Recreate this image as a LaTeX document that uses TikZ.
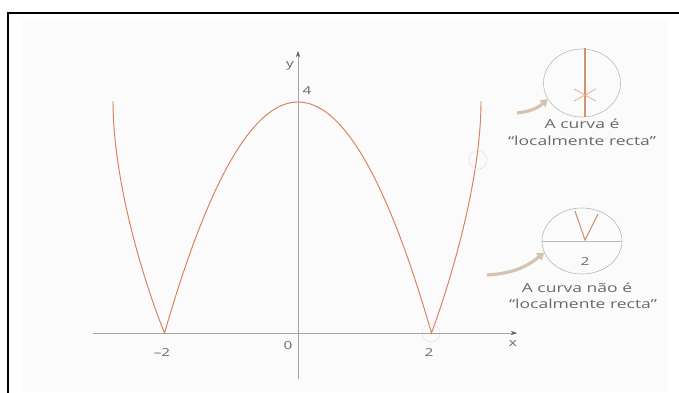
\documentclass[tikz,border=0pt]{standalone}
\usepackage{fontspec}
\usetikzlibrary{arrows.meta,shapes.geometric}
\newfontfamily\labfont[FakeStretch=1.4]{Open Sans}
\definecolor{curvecol}{RGB}{214,128,92}
\definecolor{axiscol}{RGB}{165,165,165}
\definecolor{tipcol}{RGB}{90,90,90}
\definecolor{txtcol}{RGB}{105,105,105}
\definecolor{arrowcol}{RGB}{214,196,178}
\definecolor{ringcol}{RGB}{185,185,185}
\definecolor{panelcol}{RGB}{251,251,251}
\definecolor{zoomcol}{RGB}{205,150,115}
\definecolor{xcol}{RGB}{238,175,135}
\begin{document}
\begin{tikzpicture}[x=1pt,y=-1pt,
  axisline/.style={draw=axiscol,line width=0.6pt},
  curveline/.style={draw=curvecol,line width=0.95pt,line join=miter},
  lab/.style={text=txtcol,font=\labfont\fontsize{12.5}{14}\selectfont,inner sep=0pt},
  axlab/.style={text=txtcol,font=\labfont\fontsize{11}{13}\selectfont,inner sep=0pt},
  ring/.style={ellipse,draw=ringcol,line width=0.6pt,inner sep=0pt},
  dotring/.style={circle,draw=curvecol!45,densely dotted,line width=0.7pt,minimum size=18pt,inner sep=0pt},
  bigarrow/.style={draw=arrowcol,line width=3.2pt,-{Triangle[length=7pt,width=9pt]}},
  zoomline/.style={draw=zoomcol,line width=1.1pt},
  xmark/.style={draw=xcol,line width=0.8pt}]
\useasboundingbox (0,0) rectangle (679,392);
\fill[panelcol] (22,20) rectangle (668,392);
\draw[line width=2pt] (8,393) -- (8,12.5) -- (679,12.5);
% axes
\coordinate (xs) at (93,333);
\coordinate (xe) at (517,333);
\coordinate (ys) at (298,379);
\coordinate (ye) at (298,51);
\draw[axisline,-{Stealth[length=6pt,width=4pt,color=tipcol]}] (xs) -- (xe);
\draw[axisline,-{Stealth[length=6pt,width=4pt,color=tipcol]}] (ys) -- (ye);
\node[axlab] (ylab) at (290,66) {y};
\node[axlab] (xlab) at (513,344) {x};
\node[axlab] (four) at (307,91) {4};
\node[axlab] (zero) at (288,346) {0};
\node[axlab] (mtwo) at (162,353) {\textendash2};
\node[axlab] (ptwo) at (429,353) {2};
% curve
\draw[curveline] (113,101) .. controls (113,180) and (143,280) .. (164.5,333)
  -- plot[domain=-2:2,samples=61] ({298+66.75*\x},{333-57.75*(4-\x*\x)})
  .. controls (451,280) and (481,180) .. (481,101);
% markers
\node[dotring] (m1) at (478,160) {};
\node[dotring] (m2) at (431,333) {};
% top inset
\node[ring,minimum width=77pt,minimum height=68pt] (c1) at (582,83) {};
\coordinate (v1) at (585,48);
\coordinate (v2) at (585,117);
\draw[zoomline] (v1) -- (v2);
\coordinate (x1) at (574,89);
\coordinate (x2) at (596,101);
\coordinate (x3) at (574,101);
\coordinate (x4) at (596,89);
\draw[xmark] (x1) -- (x2);
\draw[xmark] (x3) -- (x4);
\node[lab] (t1) at (582,124) {A curva é};
\node[lab] (t2) at (582,141) {“localmente recta”};
% bottom inset
\node[ring,minimum width=80pt,minimum height=66pt] (c2) at (582,241) {};
\draw[axisline,draw=ringcol] (c2.west) -- (c2.east);
\coordinate (w1) at (575,211);
\coordinate (w0) at (585,240);
\coordinate (w2) at (598,214);
\draw[zoomline,line join=miter] (w1) -- (w0) -- (w2);
\node[axlab] (two2) at (585,262) {2};
\node[lab] (t3) at (577,288) {A curva não é};
\node[lab] (t4) at (583,304) {“localmente recta”};
% arrows
\coordinate (a1) at (517,113);
\coordinate (a2) at (487,275);
\draw[bigarrow] (a1) to[bend right=18] (c1.205);
\draw[bigarrow] (a2) to[bend right=18] (c2.197);
\end{tikzpicture}
\end{document}
